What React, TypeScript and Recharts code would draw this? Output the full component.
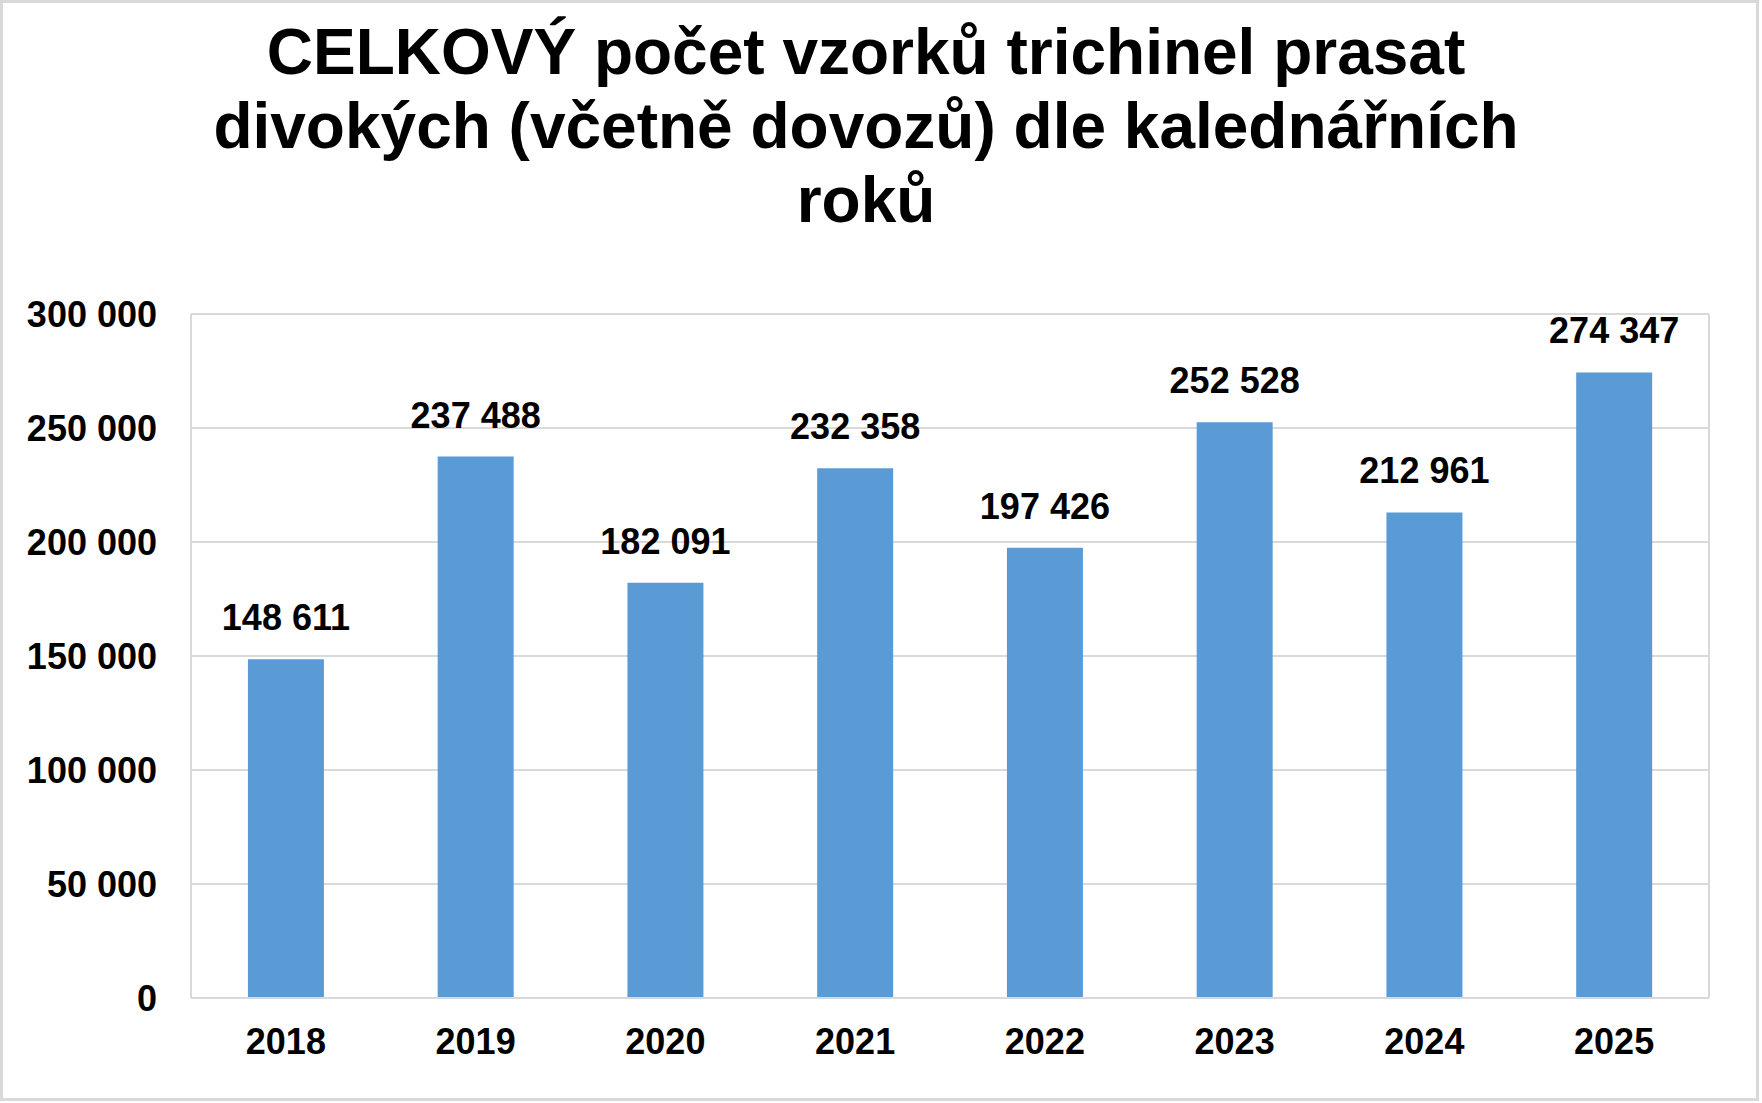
import { BarChart, Bar, XAxis, YAxis, CartesianGrid, LabelList } from "recharts";

const years = ["2018", "2019", "2020", "2021", "2022", "2023", "2024", "2025"];
const samples = [148611, 237488, 182091, 232358, 197426, 252528, 212961, 274347];
const yTicks = [0, 50000, 100000, 150000, 200000, 250000, 300000];
const titleLines = [
  "CELKOVÝ počet vzorků trichinel prasat",
  "divokých (včetně dovozů) dle kalednářních",
  "roků",
];

const font = "'Liberation Sans', Arial, sans-serif";
const grey = "#d9d9d9";

const fmt = (n: number) => String(n).replace(/\B(?=(\d{3})+(?!\d))/g, " ");

export default function App() {
  const data = years.map((y, i) => ({ year: y, value: samples[i] }));

  return (
    <div
      style={{
        position: "absolute",
        left: 0,
        top: 0,
        width: 1759,
        height: 1101,
        boxSizing: "border-box",
        border: `3px solid ${grey}`,
        background: "#fff",
        fontFamily: font,
      }}
    >
      <div
        style={{
          position: "absolute",
          top: 12,
          left: -3,
          width: 1732,
          textAlign: "center",
          fontSize: 64,
          fontWeight: "bold",
          lineHeight: "74px",
          color: "#000",
        }}
      >
        {titleLines.map((t) => (
          <div key={t}>{t}</div>
        ))}
      </div>
      <div style={{ position: "absolute", left: -3, top: -3 }}>
        <BarChart
          width={1762}
          height={1103}
          data={data}
          margin={{ top: 314, right: 53, bottom: 75, left: 0 }}
          barCategoryGap="30%"
        >
          <CartesianGrid
            stroke={grey}
            strokeWidth={2}
            verticalCoordinatesGenerator={({ offset }: any) => [offset.left, offset.left + offset.width]}
          />
          <XAxis
            dataKey="year"
            height={30}
            axisLine={{ stroke: grey, strokeWidth: 2 }}
            tickLine={false}
            tickSize={0}
            tickMargin={30}
            interval={0}
            tick={{ fill: "#000", fontSize: 36, fontWeight: "bold", fontFamily: font }}
          />
          <YAxis
            width={191}
            domain={[0, 300000]}
            ticks={yTicks}
            tickFormatter={fmt}
            axisLine={false}
            tickLine={false}
            tickSize={0}
            tickMargin={34}
            tick={{ fill: "#000", fontSize: 36, fontWeight: "bold", fontFamily: font }}
          />
          <Bar dataKey="value" fill="#5b9bd5" isAnimationActive={false}>
            <LabelList
              dataKey="value"
              position="top"
              offset={29}
              formatter={(v: any) => fmt(Number(v))}
              style={{ fill: "#000", fontSize: 36, fontWeight: "bold", fontFamily: font }}
            />
          </Bar>
        </BarChart>
      </div>
    </div>
  );
}
